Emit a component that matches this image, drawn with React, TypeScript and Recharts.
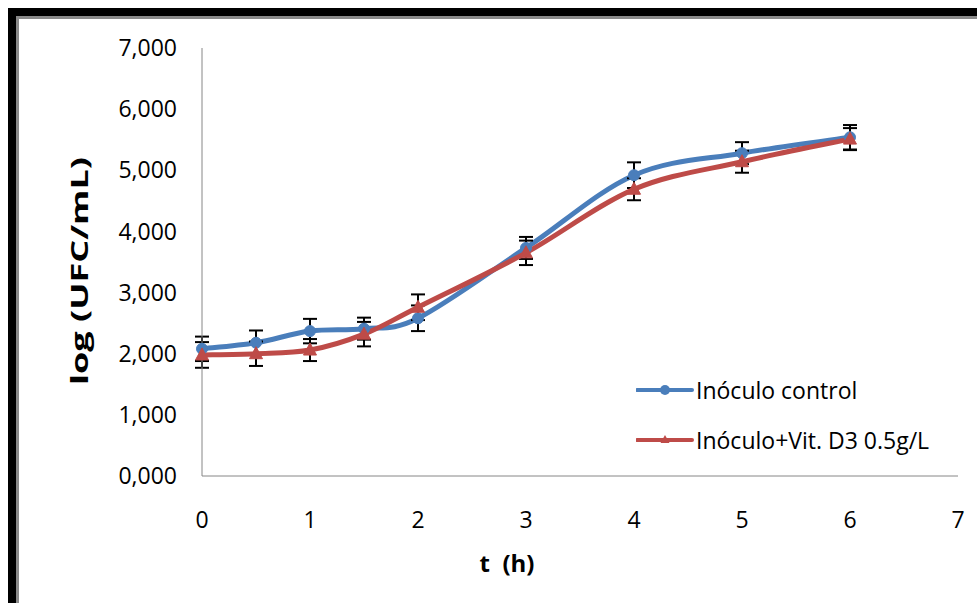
import React from 'react';
import { LineChart, Line, XAxis, YAxis, ErrorBar, Legend } from 'recharts';

const times = [0, 0.5, 1, 1.5, 2, 3, 4, 5, 6];
const controlValues = [2.08, 2.18, 2.37, 2.41, 2.58, 3.73, 4.92, 5.28, 5.54];
const vitD3Values = [1.98, 2.0, 2.06, 2.32, 2.76, 3.65, 4.69, 5.14, 5.51];
const controlErrors = [0.2, 0.2, 0.2, 0.18, 0.21, 0.18, 0.21, 0.18, 0.2];
const vitD3Errors = [0.21, 0.2, 0.18, 0.2, 0.21, 0.2, 0.18, 0.18, 0.18];
const xTicks = [0, 1, 2, 3, 4, 5, 6, 7];
const yTicks = [0, 1, 2, 3, 4, 5, 6, 7];
const seriesNames = ['Inóculo control', 'Inóculo+Vit. D3 0.5g/L'];

const BLUE = '#4A7EBB';
const RED = '#BE4B48';
const FONT = "'Open Sans', sans-serif";

const data = times.map((t, i) => ({
  t,
  control: controlValues[i],
  vitD3: vitD3Values[i],
  errControl: controlErrors[i],
  errVitD3: vitD3Errors[i],
}));

// Excel-like smoothed line (uniform Catmull-Rom as cubic Bezier)
function excelSmooth(context: any) {
  let pts: [number, number][] = [];
  return {
    areaStart() {},
    areaEnd() {},
    lineStart() {
      pts = [];
    },
    lineEnd() {
      const n = pts.length;
      if (n === 0) return;
      context.moveTo(pts[0][0], pts[0][1]);
      for (let i = 0; i < n - 1; i++) {
        const p0 = pts[Math.max(i - 1, 0)];
        const p1 = pts[i];
        const p2 = pts[i + 1];
        const p3 = pts[Math.min(i + 2, n - 1)];
        context.bezierCurveTo(
          p1[0] + (p2[0] - p0[0]) / 6,
          p1[1] + (p2[1] - p0[1]) / 6,
          p2[0] - (p3[0] - p1[0]) / 6,
          p2[1] - (p3[1] - p1[1]) / 6,
          p2[0],
          p2[1]
        );
      }
    },
    point(x: number, y: number) {
      pts.push([+x, +y]);
    },
  };
}

const CircleDot = (props: any) => {
  const { cx, cy, index } = props;
  if (cx == null || cy == null) return <g key={index} />;
  return <circle key={index} cx={cx} cy={cy} r={5.5} fill={BLUE} stroke={BLUE} strokeWidth={1} />;
};

const TriangleDot = (props: any) => {
  const { cx, cy, index } = props;
  if (cx == null || cy == null) return <g key={index} />;
  const d = `M${cx},${cy - 7} L${cx + 6.5},${cy + 5} L${cx - 6.5},${cy + 5} Z`;
  return <path key={index} d={d} fill={RED} stroke={RED} strokeWidth={1} />;
};

const LegendContent = () => (
  <div style={{ fontFamily: FONT, fontSize: 23, color: '#000' }}>
    <div style={{ display: 'flex', alignItems: 'center', height: 50 }}>
      <svg width={58} height={20} style={{ display: 'block' }}>
        <line x1={1} y1={10} x2={56} y2={10} stroke={BLUE} strokeWidth={4} strokeLinecap="round" />
        <circle cx={29} cy={10} r={5} fill={BLUE} />
      </svg>
      <span style={{ marginLeft: 2, whiteSpace: 'nowrap' }}>{seriesNames[0]}</span>
    </div>
    <div style={{ display: 'flex', alignItems: 'center', height: 50 }}>
      <svg width={58} height={20} style={{ display: 'block' }}>
        <line x1={1} y1={10} x2={56} y2={10} stroke={RED} strokeWidth={4} strokeLinecap="round" />
        <path d="M29,5 L33.5,13 L24.5,13 Z" fill={RED} />
      </svg>
      <span style={{ marginLeft: 2, whiteSpace: 'nowrap' }}>{seriesNames[1]}</span>
    </div>
  </div>
);

const YTitle = (props: any) => {
  const vb = props.viewBox || { x: 0, y: 48, width: 202, height: 428 };
  const x = vb.x + 79;
  const y = vb.y + vb.height / 2 + 9;
  return (
    <text
      x={x}
      y={y}
      transform={`rotate(-90, ${x}, ${y})`}
      textAnchor="middle"
      dominantBaseline="central"
      fontFamily={FONT}
      fontWeight="bold"
      fontSize={23}
      fill="#000"
      textLength={228}
      lengthAdjust="spacingAndGlyphs"
    >
      log (UFC/mL)
    </text>
  );
};

const XTitle = (props: any) => {
  const vb = props.viewBox || { x: 202, y: 476, width: 756, height: 127 };
  const x = vb.x + 305;
  const y = vb.y + 86;
  return (
    <text
      x={x}
      y={y}
      textAnchor="middle"
      dominantBaseline="central"
      fontFamily={FONT}
      fontWeight="bold"
      fontSize={24}
      fill="#000"
      xmlSpace="preserve"
      style={{ whiteSpace: 'pre' }}
    >
      {'t  (h)'}
    </text>
  );
};

const fmtY = (v: number) => v.toFixed(3).replace('.', ',');

export default function App() {
  return (
    <div
      style={{
        position: 'fixed',
        left: 0,
        top: 0,
        width: 977,
        height: 603,
        overflow: 'hidden',
        background: '#fff',
      }}
    >
      <div
        style={{
          position: 'absolute',
          left: 8,
          top: 8,
          width: 1200,
          height: 900,
          borderTop: '8px solid #000',
          borderLeft: '8px solid #000',
        }}
      >
        <div
          style={{
            position: 'absolute',
            left: 0,
            top: 0,
            right: 0,
            bottom: 0,
            borderTop: '3px solid #8a8a8a',
            borderLeft: '3px solid #8a8a8a',
          }}
        />
      </div>
      <div style={{ position: 'absolute', left: 0, top: 0 }}>
        <LineChart
          width={977}
          height={603}
          data={data}
          margin={{ top: 48, right: 19, left: 0, bottom: 0 }}
        >
          <XAxis
            dataKey="t"
            type="number"
            domain={[0, 7]}
            ticks={xTicks}
            allowDecimals={false}
            height={127}
            tickLine={false}
            tickSize={0}
            tickMargin={36}
            axisLine={{ stroke: '#868686', strokeWidth: 1 }}
            tick={{ fontSize: 23, fill: '#000', fontFamily: FONT }}
            label={{ content: XTitle }}
          />
          <YAxis
            type="number"
            domain={[0, 7]}
            ticks={yTicks}
            width={202}
            tickLine={false}
            tickSize={0}
            tickMargin={25}
            tickFormatter={fmtY}
            axisLine={{ stroke: '#868686', strokeWidth: 1 }}
            tick={{ fontSize: 23, fill: '#000', fontFamily: FONT }}
            label={{ content: YTitle }}
          />
          <Legend
            layout="horizontal"
            align="center"
            verticalAlign="middle"
            content={LegendContent}
            wrapperStyle={{ left: 636, top: 365, width: 340, height: 100 }}
          />
          <Line
            dataKey="control"
            name={seriesNames[0]}
            type={excelSmooth as any}
            stroke={BLUE}
            strokeWidth={5}
            dot={CircleDot}
            activeDot={false}
            isAnimationActive={false}
          >
            <ErrorBar dataKey="errControl" direction="y" width={7} stroke="#000" strokeWidth={2} />
          </Line>
          <Line
            dataKey="vitD3"
            name={seriesNames[1]}
            type={excelSmooth as any}
            stroke={RED}
            strokeWidth={5}
            dot={TriangleDot}
            activeDot={false}
            isAnimationActive={false}
          >
            <ErrorBar dataKey="errVitD3" direction="y" width={7} stroke="#000" strokeWidth={2} />
          </Line>
        </LineChart>
      </div>
    </div>
  );
}
